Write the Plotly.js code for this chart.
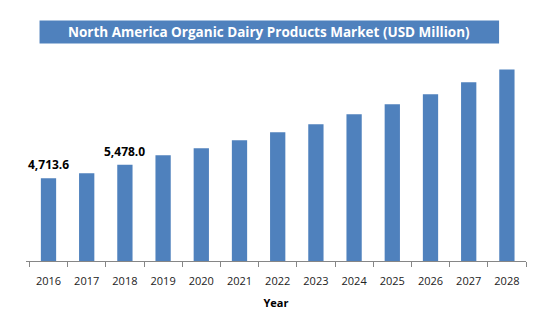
<!DOCTYPE html>
<html>
<head>
<meta charset="utf-8">
<script src="https://cdn.plot.ly/plotly-3.0.1.min.js"></script>
<style>html,body{margin:0;padding:0;background:#fff;}#chart{width:556px;height:323px;}</style>
</head>
<body>
<div id="chart"></div>
<script>
var years = ['2016','2017','2018','2019','2020','2021','2022','2023','2024','2025','2026','2027','2028'];
var values = [4713.6, 5000, 5478.0, 6020, 6420, 6870, 7330, 7780, 8350, 8920, 9490, 10170, 10910];
var labels = ['4,713.6', '', '5,478.0', '', '', '', '', '', '', '', '', '', ''];
var chartTitle = 'North America Organic Dairy Products Market (USD Million)';
var xTitle = 'Year';

var W = 556, H = 323;
var L = 25.75, R = 526.25, T = 50, B = 261.5;
function px(x){ return (x - L) / (R - L); }
function py(y){ return (B - y) / (B - T); }

var trace = {
  type: 'bar',
  x: years,
  y: values,
  marker: {color: '#4F81BD'},
  hoverinfo: 'none'
};

var annotations = [{
  xref: 'paper', yref: 'paper',
  x: px(269.3), y: py(32), xanchor: 'center', yanchor: 'middle',
  text: chartTitle, showarrow: false,
  font: {family: 'Open Sans, sans-serif', size: 13.5, color: '#fff', weight: 'bold'}
}];
for (var i = 0; i < years.length; i++) {
  if (labels[i]) {
    annotations.push({
      xref: 'x', yref: 'y', x: i, y: values[i],
      xanchor: 'center', yanchor: 'bottom', yshift: 3,
      text: labels[i], showarrow: false,
      font: {family: 'Open Sans, sans-serif', size: 12, color: '#000', weight: 'bold'}
    });
  }
}

var layout = {
  width: W, height: H,
  margin: {l: L, r: W - R, t: T, b: H - B, pad: 0},
  paper_bgcolor: '#fff', plot_bgcolor: '#fff',
  bargap: 0.6,
  showlegend: false,
  xaxis: {
    type: 'category',
    tickson: 'boundaries',
    ticks: 'outside', ticklen: 5, tickcolor: '#868686', tickwidth: 1,
    ticklabelstandoff: 10,
    showline: true, linecolor: '#868686', linewidth: 1,
    showgrid: false, zeroline: false,
    tickfont: {family: 'Open Sans, sans-serif', size: 11, color: '#222'},
    title: {text: xTitle, font: {family: 'Open Sans, sans-serif', size: 11, color: '#000', weight: 'bold'}, standoff: 12}
  },
  yaxis: {visible: false, range: [0, 211.5 * 56.8], fixedrange: true},
  shapes: [{
    type: 'rect', xref: 'paper', yref: 'paper',
    x0: px(39.3), x1: px(499.3), y0: py(43.6), y1: py(20.4),
    fillcolor: '#4F81BD', line: {width: 0}, layer: 'above'
  }],
  annotations: annotations
};

Plotly.newPlot('chart', [trace], layout, {staticPlot: true, displayModeBar: false});
</script>
</body>
</html>
